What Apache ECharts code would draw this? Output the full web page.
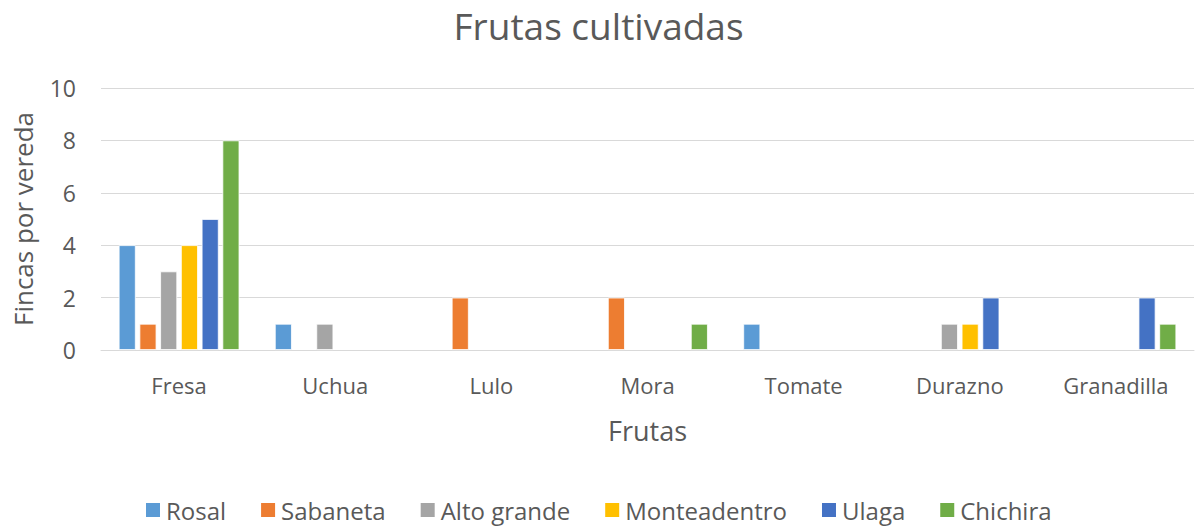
<!DOCTYPE html>
<html>
<head>
<meta charset="utf-8">
<script src="https://cdn.jsdelivr.net/npm/echarts@6/dist/echarts.min.js"></script>
<style>
  html, body { margin: 0; padding: 0; background: #fff; }
  #chart { width: 1197px; height: 527px; }
</style>
</head>
<body>
<div id="chart"></div>
<script>
const frutas = ["Fresa", "Uchua", "Lulo", "Mora", "Tomate", "Durazno", "Granadilla"];
const veredas = ["Rosal", "Sabaneta", "Alto grande", "Monteadentro", "Ulaga", "Chichira"];
const colores = ["#5B9BD5", "#ED7D31", "#A5A5A5", "#FFC000", "#4472C4", "#70AD47"];

const rosal = [4, 1, 0, 0, 1, 0, 0];
const sabaneta = [1, 0, 2, 2, 0, 0, 0];
const altoGrande = [3, 1, 0, 0, 0, 1, 0];
const monteadentro = [4, 0, 0, 0, 0, 1, 0];
const ulaga = [5, 0, 0, 0, 0, 2, 2];
const chichira = [8, 0, 0, 1, 0, 0, 1];

const valores = [rosal, sabaneta, altoGrande, monteadentro, ulaga, chichira];
const yTicks = [0, 2, 4, 6, 8, 10];

const font = "'Open Sans', 'Noto Sans', sans-serif";

const chart = echarts.init(document.getElementById("chart"), null, { renderer: "svg" });

// ceros no se dibujan
const series = veredas.map((name, i) => ({
    name: name,
    type: "bar",
    barWidth: 17,
    barGap: "22%",
    data: valores[i].map(v => (v === 0 ? null : v)),
    itemStyle: { color: colores[i], borderColor: "#fff", borderWidth: 0.8 },
    animation: false
}));

chart.setOption({
    backgroundColor: "#fff",
    title: {
        text: "Frutas cultivadas",
        left: "center",
        top: 2,
        textStyle: { fontFamily: font, fontSize: 37, fontWeight: "normal", color: "#595959" }
    },
    legend: {
        bottom: 0,
        left: 139,
        itemWidth: 16,
        itemHeight: 16,
        itemGap: 33,
        icon: "rect",
        textStyle: { fontFamily: font, fontSize: 24, color: "#595959" },
        data: veredas
    },
    grid: { left: 101, right: 3, top: 88, bottom: 177, containLabel: false },
    xAxis: {
        type: "category",
        data: frutas,
        name: "Frutas",
        nameLocation: "middle",
        nameGap: 67,
        nameTextStyle: { fontFamily: font, fontSize: 27, color: "#595959" },
        axisLine: { lineStyle: { color: "#D9D9D9", width: 1 } },
        axisTick: { show: false },
        axisLabel: { fontFamily: font, fontSize: 22, color: "#595959", margin: 24 }
    },
    yAxis: {
        type: "value",
        min: yTicks[0],
        max: yTicks[yTicks.length - 1],
        interval: 2,
        name: "Fincas por vereda",
        nameLocation: "middle",
        nameGap: 65,
        nameRotate: 90,
        nameTextStyle: { fontFamily: font, fontSize: 26, color: "#595959" },
        axisLine: { show: false },
        axisTick: { show: false },
        axisLabel: { fontFamily: font, fontSize: 23, color: "#595959", margin: 25 },
        splitLine: { lineStyle: { color: "#D9D9D9", width: 1 } }
    },
    series: series
});
</script>
</body>
</html>
